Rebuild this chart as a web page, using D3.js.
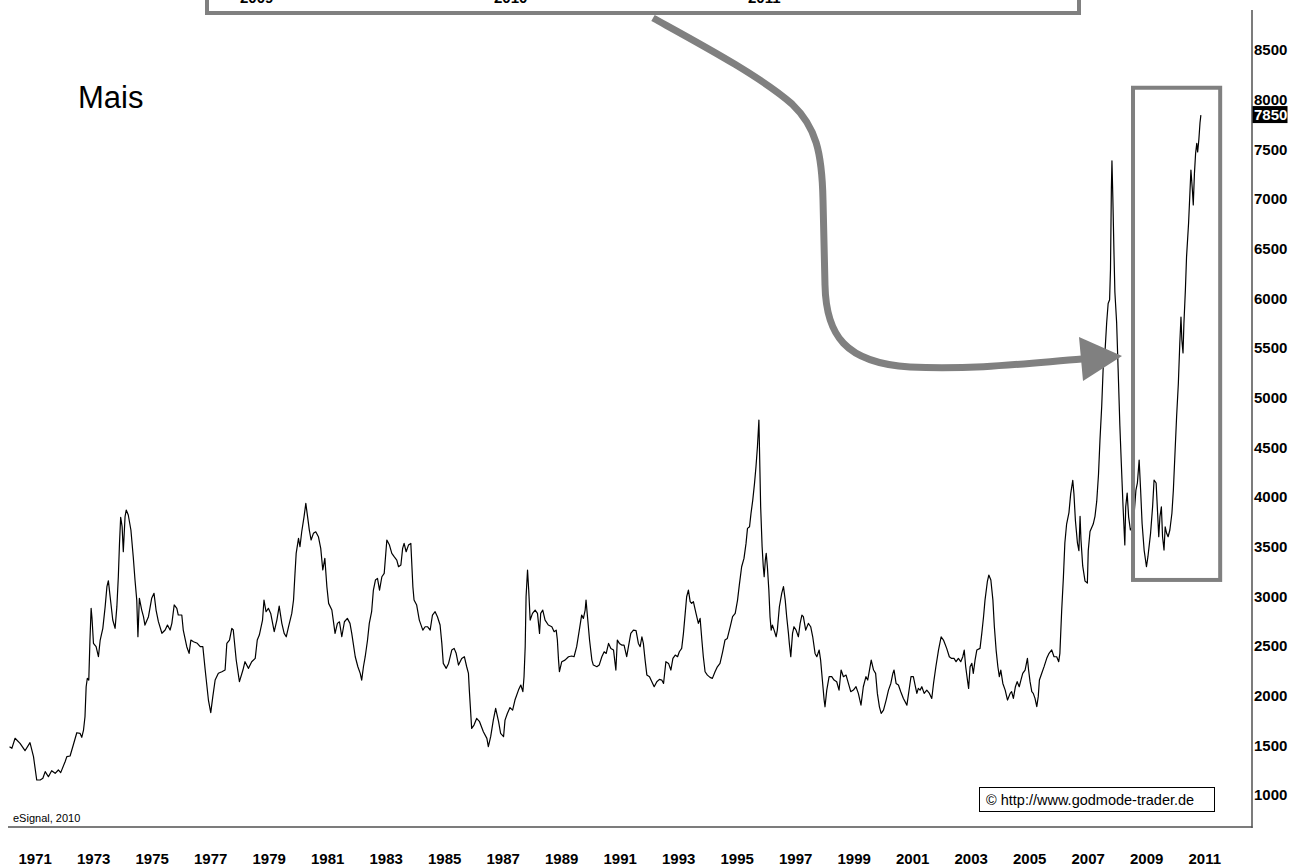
<!DOCTYPE html>
<html>
<head>
<meta charset="utf-8">
<script src="https://cdn.jsdelivr.net/npm/d3@7"></script>
<style>
  body { margin: 0; background: #fff; }
  svg { display: block; font-family: "Liberation Sans", Arial, sans-serif; }
</style>
</head>
<body>
<div id="chart"></div>
<script>
// Mais (corn) monthly-ish closes: [decimal year, value]
var maisSeries = [
  [1970.71,1486],[1970.79,1470],[1970.90,1571],[1971.07,1520],[1971.24,1446],[1971.41,1527],[1971.53,1386],
  [1971.64,1151],[1971.76,1151],[1971.85,1168],[1971.93,1235],[1972.04,1184],[1972.15,1245],[1972.27,1218],
  [1972.38,1252],[1972.46,1225],[1972.61,1335],[1972.67,1386],[1972.78,1393],[1972.89,1503],[1973.01,1627],
  [1973.12,1621],[1973.18,1581],[1973.24,1654],[1973.29,1788],[1973.33,2090],[1973.37,2175],[1973.42,2157],
  [1973.46,2560],[1973.50,2879],[1973.53,2779],[1973.58,2527],[1973.67,2493],[1973.75,2392],[1973.81,2560],
  [1973.90,2678],[1973.98,2896],[1974.04,3097],[1974.09,3157],[1974.15,2996],[1974.24,2762],[1974.32,2678],
  [1974.38,2896],[1974.43,3198],[1974.47,3534],[1974.51,3796],[1974.56,3701],[1974.60,3449],[1974.66,3802],
  [1974.70,3869],[1974.77,3819],[1974.86,3668],[1974.94,3399],[1975.00,3164],[1975.06,2963],[1975.10,2594],
  [1975.15,2980],[1975.23,2862],[1975.29,2795],[1975.34,2711],[1975.46,2795],[1975.57,2980],[1975.65,3030],
  [1975.72,2862],[1975.80,2745],[1975.92,2628],[1976.03,2661],[1976.11,2711],[1976.20,2661],[1976.26,2728],
  [1976.34,2913],[1976.43,2879],[1976.48,2812],[1976.60,2812],[1976.65,2661],[1976.77,2493],[1976.85,2426],
  [1976.91,2560],[1977.00,2543],[1977.13,2527],[1977.23,2493],[1977.32,2493],[1977.40,2258],[1977.51,1956],
  [1977.59,1829],[1977.66,1990],[1977.74,2158],[1977.85,2225],[1977.97,2241],[1978.08,2258],[1978.14,2527],
  [1978.23,2560],[1978.31,2678],[1978.36,2661],[1978.46,2359],[1978.57,2141],[1978.69,2258],[1978.76,2342],
  [1978.88,2275],[1978.99,2342],[1979.11,2376],[1979.18,2560],[1979.25,2610],
  [1979.36,2761],[1979.41,2963],[1979.48,2845],[1979.56,2879],[1979.64,2828],[1979.76,2644],[1979.85,2761],
  [1979.93,2902],[1980.02,2728],[1980.10,2627],[1980.17,2593],[1980.25,2694],[1980.36,2828],[1980.42,2963],
  [1980.47,3231],[1980.51,3432],[1980.59,3583],[1980.64,3499],[1980.70,3650],[1980.78,3802],[1980.84,3936],
  [1980.90,3802],[1980.96,3667],[1981.02,3567],[1981.10,3634],[1981.18,3650],[1981.27,3600],[1981.35,3483],
  [1981.42,3265],[1981.49,3382],[1981.56,3097],[1981.62,2929],[1981.73,2862],[1981.84,2627],[1981.92,2728],
  [1981.99,2744],[1982.07,2593],[1982.16,2744],[1982.26,2778],[1982.35,2728],[1982.41,2627],[1982.53,2392],
  [1982.62,2291],[1982.70,2224],[1982.75,2157],[1982.81,2291],[1982.87,2392],[1982.95,2560],[1983.01,2728],
  [1983.09,2845],[1983.15,3063],[1983.22,3164],[1983.29,3181],[1983.36,3063],[1983.44,3197],[1983.52,3231],
  [1983.61,3567],[1983.70,3516],[1983.78,3432],[1983.86,3399],[1983.95,3365],[1984.01,3298],[1984.09,3315],
  [1984.15,3483],[1984.20,3533],[1984.27,3449],[1984.35,3516],[1984.43,3533],[1984.50,3097],[1984.54,2963],
  [1984.63,2912],[1984.72,2761],[1984.84,2660],[1984.92,2694],[1985.00,2694],[1985.09,2660],[1985.17,2812],
  [1985.26,2845],[1985.34,2795],[1985.43,2711],[1985.49,2526],[1985.54,2325],[1985.64,2275],[1985.72,2325],
  [1985.83,2459],[1985.91,2476],[1985.98,2426],[1986.06,2308],[1986.17,2375],[1986.26,2392],[1986.34,2291],
  [1986.40,2224],[1986.43,2056],[1986.51,1670],[1986.59,1704],[1986.68,1771],[1986.78,1738],[1986.91,1637],
  [1987.03,1570],[1987.08,1486],[1987.16,1587],[1987.25,1754],[1987.33,1872],[1987.43,1738],[1987.50,1620],
  [1987.60,1587],[1987.65,1754],[1987.73,1821],[1987.82,1880],
  [1987.91,1855],[1987.99,1956],[1988.11,2056],[1988.19,2107],[1988.26,2040],[1988.30,2191],[1988.34,2493],
  [1988.37,2996],[1988.42,3264],[1988.46,3063],[1988.51,2761],[1988.59,2828],[1988.68,2862],[1988.76,2828],
  [1988.83,2627],[1988.87,2828],[1988.94,2862],[1989.02,2761],[1989.13,2711],[1989.25,2694],[1989.33,2644],
  [1989.40,2660],[1989.44,2560],[1989.48,2358],[1989.51,2241],[1989.59,2342],[1989.70,2358],[1989.82,2392],
  [1989.93,2399],[1990.01,2392],[1990.10,2493],[1990.19,2660],[1990.27,2811],[1990.33,2778],[1990.39,2862],
  [1990.42,2962],[1990.47,2795],[1990.54,2560],[1990.62,2358],[1990.67,2308],[1990.79,2291],[1990.87,2308],
  [1990.96,2392],[1991.04,2442],[1991.11,2425],[1991.19,2526],[1991.27,2476],[1991.36,2459],[1991.44,2258],
  [1991.49,2560],[1991.56,2526],[1991.64,2509],[1991.72,2509],[1991.81,2392],[1991.87,2493],[1991.95,2627],
  [1992.04,2660],[1992.13,2654],[1992.21,2526],[1992.27,2493],[1992.33,2593],[1992.38,2526],[1992.44,2358],
  [1992.50,2207],[1992.59,2191],[1992.67,2140],[1992.75,2090],[1992.84,2140],[1992.93,2164],[1993.01,2157],
  [1993.07,2123],[1993.15,2342],[1993.24,2325],[1993.32,2258],[1993.39,2375],[1993.47,2409],[1993.55,2392],
  [1993.61,2442],[1993.69,2476],[1993.75,2627],[1993.81,2828],[1993.86,2996],[1993.92,3063],[1993.98,2946],
  [1994.03,2929],[1994.09,2946],[1994.18,2828],[1994.26,2728],[1994.32,2778],[1994.38,2560],[1994.43,2392],
  [1994.49,2241],[1994.57,2207],[1994.66,2184],[1994.74,2174],[1994.83,2241],[1994.91,2291],[1995.00,2325],
  [1995.09,2442],[1995.17,2560],[1995.25,2576],[1995.35,2694],[1995.43,2795],[1995.52,2828],[1995.60,2962],
  [1995.66,3113],[1995.74,3298],[1995.82,3382],[1995.89,3533],[1995.94,3684],[1996.01,3701],[1996.06,3835],
  [1996.12,3969],[1996.18,4137],[1996.23,4305],[1996.28,4506],[1996.33,4775],
  [1996.39,3902],[1996.44,3499],[1996.48,3298],[1996.51,3197],[1996.55,3365],[1996.58,3432],[1996.62,3298],
  [1996.67,3063],[1996.71,2795],[1996.75,2660],[1996.79,2711],[1996.85,2660],[1996.92,2593],[1996.96,2660],
  [1997.03,2895],[1997.11,3030],[1997.17,3097],[1997.23,2962],[1997.28,2795],[1997.34,2627],[1997.37,2526],
  [1997.42,2392],[1997.48,2627],[1997.53,2694],[1997.60,2660],[1997.68,2593],[1997.74,2728],[1997.80,2811],
  [1997.85,2795],[1997.93,2660],[1998.02,2728],[1998.10,2694],[1998.17,2593],[1998.25,2425],[1998.31,2392],
  [1998.39,2459],[1998.44,2358],[1998.51,2123],[1998.56,1956],[1998.59,1888],[1998.65,2056],[1998.73,2191],
  [1998.82,2191],[1998.90,2157],[1998.99,2140],[1999.07,2056],[1999.14,2258],[1999.22,2191],[1999.31,2207],
  [1999.39,2123],[1999.47,2040],[1999.56,2056],[1999.65,2090],[1999.73,2023],[1999.82,1905],[1999.90,2090],
  [1999.99,2191],[2000.05,2157],[2000.11,2258],[2000.17,2358],[2000.25,2258],[2000.32,2224],[2000.38,2023],
  [2000.45,1888],[2000.51,1821],[2000.59,1855],[2000.68,1956],[2000.76,2056],[2000.84,2123],[2000.91,2224],
  [2000.95,2258],[2001.02,2123],[2001.10,2107],[2001.18,2040],[2001.27,1972],[2001.39,1905],[2001.48,2090],
  [2001.53,2191],[2001.61,2191],[2001.67,2107],[2001.73,2023],[2001.78,2073],[2001.84,2056],[2001.90,2090],
  [2001.98,2023],[2002.07,2056],[2002.16,2023],[2002.24,1972],[2002.30,2123],[2002.38,2291],[2002.47,2459],
  [2002.56,2593],[2002.64,2560],[2002.75,2476],[2002.84,2392],[2002.92,2375],[2003.00,2375],[2003.07,2342],
  [2003.15,2375],[2003.23,2342],[2003.30,2392],[2003.35,2459],[2003.40,2291],[2003.46,2157],[2003.50,2073],
  [2003.55,2291],[2003.61,2325],[2003.66,2224],[2003.72,2358],[2003.78,2459],[2003.89,2476],[2003.95,2627],
  [2004.01,2795],[2004.06,2962],[2004.14,3147],[2004.19,3214],[2004.26,3164],[2004.33,2962],[2004.38,2694],
  [2004.44,2459],[2004.50,2291],[2004.55,2191],[2004.60,2258],[2004.67,2123],[2004.75,2056],[2004.83,1956],
  [2004.92,2023],[2004.97,2040],[2005.03,1973],[2005.10,2090],[2005.16,2141],[2005.23,2090],[2005.29,2158],
  [2005.35,2225],[2005.43,2258],[2005.51,2376],[2005.55,2258],[2005.60,2141],[2005.66,2040],[2005.71,2023],
  [2005.77,1973],[2005.83,1889],[2005.88,1990],[2005.92,2158],[2006.00,2225],[2006.08,2292],[2006.17,2376],
  [2006.25,2426],[2006.34,2460],[2006.42,2392],[2006.51,2392],[2006.58,2342],[2006.62,2426],
  [2006.68,2847],[2006.74,3191],[2006.79,3537],[2006.85,3728],[2006.93,3843],[2006.99,4034],[2007.06,4168],
  [2007.10,4034],[2007.15,3766],[2007.22,3537],[2007.27,3460],[2007.31,3805],[2007.34,3575],[2007.40,3306],
  [2007.48,3153],[2007.56,3134],[2007.59,3460],[2007.65,3652],[2007.76,3728],[2007.82,3805],[2007.88,3958],
  [2007.94,4226],[2007.99,4570],[2008.05,4914],[2008.10,5298],[2008.16,5451],[2008.22,5757],[2008.27,5948],
  [2008.32,5986],[2008.35,6292],[2008.38,7097],[2008.40,7384],[2008.43,7020],[2008.47,6446],[2008.50,6064],
  [2008.56,5757],[2008.61,5298],[2008.67,4723],[2008.72,4340],[2008.78,3900],[2008.84,3517],[2008.87,3900],
  [2008.92,4040],[2008.97,3800],[2009.03,3668],[2009.13,3720],[2009.22,4070],[2009.27,4141],[2009.33,4372],
  [2009.38,4070],[2009.43,3736],[2009.50,3466],[2009.58,3298],[2009.63,3399],[2009.72,3634],[2009.79,3903],
  [2009.84,4171],[2009.91,4141],[2009.95,3903],[2010.00,3600],[2010.04,3800],[2010.09,3900],[2010.13,3600],
  [2010.18,3466],[2010.22,3700],[2010.27,3634],[2010.32,3600],[2010.38,3668],[2010.45,3836],[2010.50,4070],
  [2010.56,4473],[2010.61,4805],[2010.67,5143],[2010.72,5550],[2010.76,5812],[2010.79,5580],[2010.83,5450],
  [2010.86,5745],[2010.91,6080],[2010.95,6416],[2011.02,6758],[2011.07,7090],[2011.10,7292],[2011.15,7090],
  [2011.18,6940],[2011.22,7258],[2011.26,7460],[2011.30,7560],[2011.33,7473],[2011.37,7594],[2011.41,7765],
  [2011.44,7845]
];

var yTicks = [1000, 1500, 2000, 2500, 3000, 3500, 4000, 4500, 5000, 5500, 6000, 6500, 7000, 7500, 8000, 8500];
var xTicks = [1971, 1973, 1975, 1977, 1979, 1981, 1983, 1985, 1987, 1989, 1991, 1993, 1995, 1997, 1999, 2001, 2003, 2005, 2007, 2009, 2011];
var lastValue = 7850;
var insetYears = [2009, 2010, 2011];   // labels of the zoomed inset, cut off at the top
var highlight = { from: 2009.12, to: 2012.1, low: 3165, high: 8120 };   // grey frame round the latest rally

var W = 1300, H = 868;

var svg = d3.select('#chart').append('svg')
  .attr('width', W)
  .attr('height', H)
  .style('background-color', '#fff');

// year start -> x, price -> y
var x = d3.scaleLinear().domain([1971, 2011]).range([18, 1188]);
var y = d3.scaleLinear().domain([1000, 8500]).range([795, 50]);

// frame lines (right and bottom)
svg.append('line')
  .attr('x1', 1252).attr('x2', 1252)
  .attr('y1', 10).attr('y2', 828)
  .attr('stroke', '#505050').attr('stroke-width', 1.5);
svg.append('line')
  .attr('x1', 8).attr('x2', 1252.5)
  .attr('y1', 827).attr('y2', 827)
  .attr('stroke', '#505050').attr('stroke-width', 1.5);

// right value axis
var yAxis = svg.append('g')
  .attr('transform', 'translate(1252,0)')
  .call(d3.axisRight(y).tickValues(yTicks).tickSize(0).tickPadding(2).tickFormat(d3.format('d')));
yAxis.select('.domain').remove();
yAxis.selectAll('text')
  .attr('font-family', '"Liberation Sans", Arial, sans-serif')
  .attr('font-size', 15)
  .attr('font-weight', 'bold')
  .attr('fill', '#000');

// bottom year axis, labels start at the first bar of the year
var xAxis = svg.append('g')
  .attr('transform', 'translate(0,828)')
  .call(d3.axisBottom(x).tickValues(xTicks).tickSize(0).tickFormat(d3.format('d')));
xAxis.select('.domain').remove();
xAxis.selectAll('text')
  .attr('font-family', '"Liberation Sans", Arial, sans-serif')
  .attr('font-size', 15)
  .attr('font-weight', 'bold')
  .attr('fill', '#000')
  .attr('text-anchor', 'start')
  .attr('y', 36)
  .attr('dy', 0);

// price line
var line = d3.line()
  .x(function(d) { return x(d[0]); })
  .y(function(d) { return y(d[1]); });

svg.append('path')
  .datum(maisSeries)
  .attr('d', line)
  .attr('fill', 'none')
  .attr('stroke', '#000')
  .attr('stroke-width', 1.2)
  .attr('stroke-linejoin', 'round');

// last price marker
var lastTag = svg.append('g').attr('transform', 'translate(1252,' + y(lastValue) + ')');
lastTag.append('rect')
  .attr('x', 0.5).attr('y', -8.5)
  .attr('width', 35).attr('height', 17)
  .attr('fill', '#000');
lastTag.append('text')
  .attr('x', 2).attr('y', 0).attr('dy', '0.35em')
  .attr('font-size', 15).attr('font-weight', 'bold')
  .attr('fill', '#fff')
  .text(lastValue);

// title
svg.append('text')
  .attr('x', 78).attr('y', 108)
  .attr('font-size', 31)
  .attr('fill', '#000')
  .text('Mais');

// source notes
svg.append('text')
  .attr('x', 13).attr('y', 822)
  .attr('font-size', 11)
  .attr('fill', '#000')
  .text('eSignal, 2010');

svg.append('rect')
  .attr('x', 979.5).attr('y', 787.5)
  .attr('width', 235).attr('height', 24)
  .attr('fill', '#fff')
  .attr('stroke', '#000').attr('stroke-width', 1);
svg.append('text')
  .attr('x', 986).attr('y', 805)
  .attr('font-size', 14.5)
  .attr('fill', '#000')
  .text('\u00A9 http://www.godmode-trader.de');

// grey highlight frame
svg.append('rect')
  .attr('x', x(highlight.from)).attr('y', y(highlight.high))
  .attr('width', x(highlight.to) - x(highlight.from))
  .attr('height', y(highlight.low) - y(highlight.high))
  .attr('fill', 'none')
  .attr('stroke', '#808080').attr('stroke-width', 4);

// inset panel at the top (mostly outside the picture)
var insetX = d3.scaleLinear().domain([2009, 2011]).range([240, 748]);
svg.append('rect')
  .attr('x', 207).attr('y', -20)
  .attr('width', 872).attr('height', 33)
  .attr('fill', '#fff')
  .attr('stroke', '#808080').attr('stroke-width', 4);
svg.selectAll('.inset-label')
  .data(insetYears)
  .enter().append('text')
  .attr('class', 'inset-label')
  .attr('x', function(d) { return insetX(d); })
  .attr('y', 3)
  .attr('font-size', 15).attr('font-weight', 'bold')
  .attr('fill', '#000')
  .text(function(d) { return d; });

// curved arrow from the inset down to the 2008 peak
svg.append('path')
  .attr('d', 'M653,18 C700,44 760,76 792,104 C816,127 822,152 823,200 L825,285 ' +
             'C826,335 845,363 910,367 C975,370 1030,363 1082,359')
  .attr('fill', 'none')
  .attr('stroke', '#808080')
  .attr('stroke-width', 7);
svg.append('path')
  .attr('d', 'M1079,337 L1122,356 L1083,381 Z')
  .attr('fill', '#808080');
</script>
</body>
</html>
